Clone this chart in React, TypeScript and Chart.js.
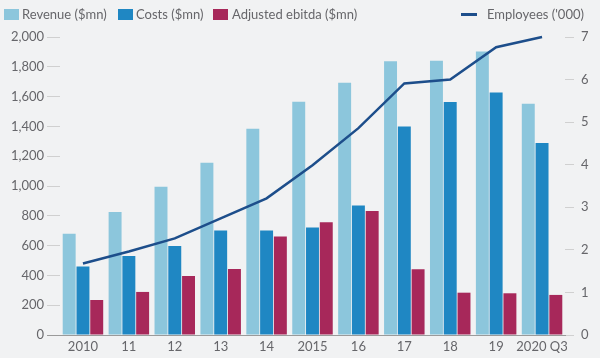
import React, { useEffect, useRef } from "react";
import { Chart, registerables } from "chart.js";

Chart.register(...registerables);

const categories = ["2010", "11", "12", "13", "14", "2015", "16", "17", "18", "19", "2020 Q3"];
const revenue = [680, 826, 995, 1156, 1384, 1566, 1693, 1837, 1841, 1902, 1552];
const costs = [460, 531, 598, 701, 701, 721, 869, 1400, 1564, 1628, 1288];
const ebitda = [235, 289, 396, 443, 661, 757, 833, 441, 284, 280, 269];
const employees = [1.68, 1.96, 2.27, 2.74, 3.21, 3.99, 4.86, 5.91, 6.0, 6.76, 7.0];

const COLORS = {
  revenue: "#8cc6dc",
  costs: "#1f87c3",
  ebitda: "#a7285a",
  line: "#1d4e8b",
  bg: "#f1f2f3",
  text: "#66666a",
};
const FONT = "Lato, 'Open Sans', sans-serif";

export default function App() {
  const ref = useRef<HTMLCanvasElement | null>(null);
  useEffect(() => {
    if (!ref.current) return;
    const chart = new Chart(ref.current, {
      data: {
        labels: categories,
        datasets: [
          {
            type: "line",
            label: "Employees ('000)",
            data: employees,
            yAxisID: "y1",
            borderColor: COLORS.line,
            borderWidth: 2.5,
            pointRadius: 0,
            tension: 0,
            order: 0,
            clip: false,
          } as any,
          {
            type: "bar",
            label: "Revenue ($mn)",
            data: revenue,
            yAxisID: "y",
            backgroundColor: COLORS.revenue,
            barPercentage: 0.94,
            categoryPercentage: 0.9,
            order: 1,
          },
          {
            type: "bar",
            label: "Costs ($mn)",
            data: costs,
            yAxisID: "y",
            backgroundColor: COLORS.costs,
            barPercentage: 0.94,
            categoryPercentage: 0.9,
            order: 1,
          },
          {
            type: "bar",
            label: "Adjusted ebitda ($mn)",
            data: ebitda,
            yAxisID: "y",
            backgroundColor: COLORS.ebitda,
            barPercentage: 0.94,
            categoryPercentage: 0.9,
            order: 1,
          },
        ],
      },
      options: {
        animation: false,
        responsive: false,
        maintainAspectRatio: false,
        layout: { padding: { top: 37, left: 0, right: 0, bottom: 0 } },
        plugins: { legend: { display: false }, tooltip: { enabled: false } },
        scales: {
          x: {
            afterFit: (s: any) => { s.height = 23; },
            grid: { display: false, drawTicks: false },
            border: { display: true, color: "#9a9a9a", width: 1 },
            ticks: { color: COLORS.text, font: { family: FONT, size: 13 }, padding: 4, maxRotation: 0, autoSkip: false },
          },
          y: {
            position: "left",
            min: 0,
            max: 2000,
            afterFit: (s: any) => { s.width = 60; },
            grid: {
              drawOnChartArea: false,
              drawTicks: true,
              tickLength: 13,
              tickColor: (c: any) => (c.tick && c.tick.value === 0 ? "#9a9a9a" : "#d0d0d0"),
            },
            border: { display: false },
            ticks: {
              stepSize: 200,
              color: COLORS.text,
              font: { family: FONT, size: 13 },
              padding: 3,
              callback: (v: any) => Number(v).toLocaleString("en-US"),
            },
          },
          y1: {
            position: "right",
            min: 0,
            max: 7,
            afterFit: (s: any) => { s.width = 35; },
            grid: { drawOnChartArea: false, drawTicks: true, tickLength: 9, tickColor: "#d0d0d0" },
            border: { display: false },
            ticks: { stepSize: 1, color: COLORS.text, font: { family: FONT, size: 13 }, padding: 7 },
          },
        },
      },
    });
    return () => chart.destroy();
  }, []);

  const swatch = (left: number, color: string) => (
    <span style={{ position: "absolute", left, top: 9, width: 15, height: 11, background: color }} />
  );
  const label = (left: number, text: string) => (
    <span style={{ position: "absolute", left, top: 6, fontSize: 13, lineHeight: "16px", color: COLORS.text, fontFamily: FONT, whiteSpace: "nowrap" }}>{text}</span>
  );

  return (
    <div style={{ position: "fixed", left: 0, top: 0, width: 600, height: 358, background: COLORS.bg, overflow: "hidden" }}>
      <canvas ref={ref} width={600} height={358} style={{ position: "absolute", left: 0, top: 0, width: 600, height: 358 }} />
      {swatch(4, COLORS.revenue)}
      {label(22, "Revenue ($mn)")}
      {swatch(118, COLORS.costs)}
      {label(136, "Costs ($mn)")}
      {swatch(213, COLORS.ebitda)}
      {label(232, "Adjusted ebitda ($mn)")}
      <span style={{ position: "absolute", left: 461, top: 13, width: 16, height: 3, background: COLORS.line }} />
      {label(487, "Employees ('000)")}
    </div>
  );
}
